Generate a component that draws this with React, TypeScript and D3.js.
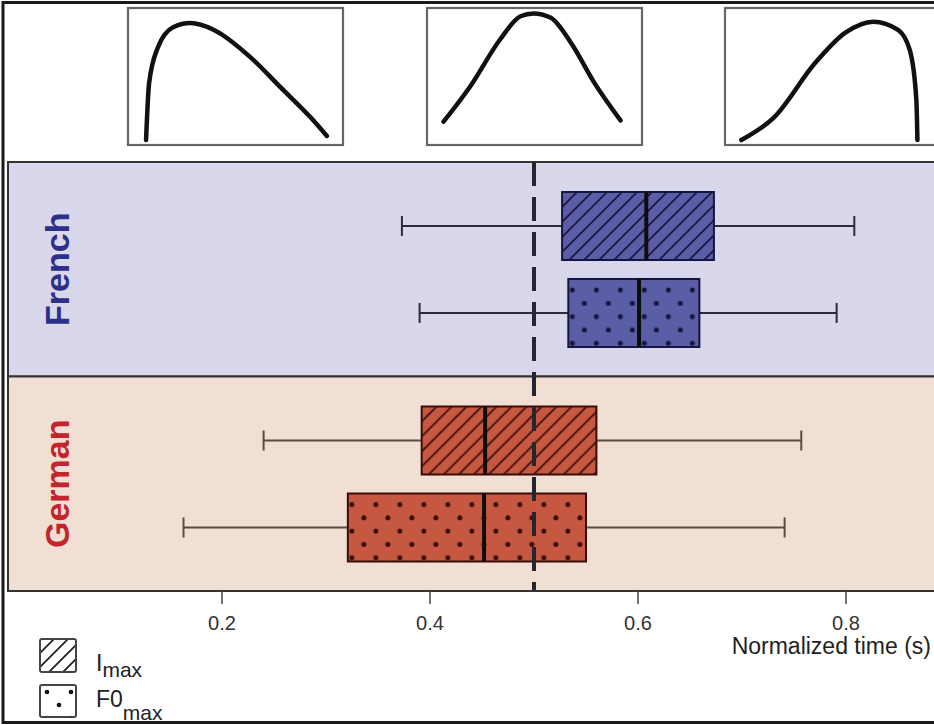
import React from "react";
import * as d3 from "d3";

const width = 934;
const height = 725;

const languages = ["French", "German"];
const measures = ["Imax", "F0max"];
// low whisker, q1, median, q3, high whisker (normalized time, s)
const frenchImax = [0.373, 0.527, 0.608, 0.673, 0.808];
const frenchF0max = [0.39, 0.533, 0.601, 0.659, 0.791];
const germanImax = [0.24, 0.392, 0.453, 0.56, 0.757];
const germanF0max = [0.163, 0.321, 0.452, 0.55, 0.741];
const xTicks = [0.2, 0.4, 0.6, 0.8];
const refTime = 0.5;

// shape sketches above the plot: [relative time, relative height]
const earlyPeak = [
  [0.084, 0.036], [0.098, 0.45], [0.14, 0.715], [0.21, 0.86], [0.29, 0.89],
  [0.4, 0.84], [0.57, 0.64], [0.71, 0.42], [0.85, 0.2], [0.925, 0.066],
];
const midPeak = [
  [0.077, 0.17], [0.2, 0.425], [0.34, 0.77], [0.435, 0.94], [0.495, 0.96],
  [0.574, 0.93], [0.67, 0.745], [0.78, 0.45], [0.9, 0.18],
];
const latePeak = [
  [0.076, 0.036], [0.227, 0.2], [0.42, 0.6], [0.56, 0.82], [0.69, 0.9],
  [0.805, 0.84], [0.86, 0.69], [0.89, 0.33], [0.895, 0.036],
];

const summaries = {
  French: { Imax: frenchImax, F0max: frenchF0max },
  German: { Imax: germanImax, F0max: germanF0max },
};

const styles = {
  French: { bg: "#d9d7ec", fill: "#5b5da7", ink: "#15163e", label: "#2d3089", whisker: "#2c2c3c" },
  German: { bg: "#f1dfd3", fill: "#c65842", ink: "#3a0c08", label: "#c2262c", whisker: "#5b4b42" },
};

const font = "'Liberation Sans', Arial, Helvetica, sans-serif";

const plotLeft = 8;
const plotTop = 162;
const panelH = 214.5;

const x = d3.scaleLinear().domain([0.2, 0.8]).range([222, 846]);
const panelY = d3
  .scaleBand()
  .domain(languages)
  .range([plotTop, plotTop + panelH * 2]);

const miniPanels = [
  { left: 128, data: earlyPeak },
  { left: 427, data: midPeak },
  { left: 725, data: latePeak },
];
const miniW = 215;
const miniTop = 8;
const miniBottom = 145;

export default function App() {
  const axisY = plotTop + panelH * 2;

  const boxes = languages.flatMap((lang) => {
    const top = panelY(lang);
    const rowY = d3
      .scaleBand()
      .domain(measures)
      .range([top + 30, top + 185])
      .paddingInner(0.218);
    return measures.map((m) => {
      const [lo, q1, med, q3, hi] = summaries[lang][m];
      const y0 = rowY(m);
      return { lang, m, lo, q1, med, q3, hi, y0, cy: y0 + rowY.bandwidth() / 2, bw: rowY.bandwidth() };
    });
  });

  return (
    <svg
      width={width}
      height={height}
      style={{ position: "fixed", left: 0, top: 0, background: "#fff" }}
      fontFamily={font}
    >
      <defs>
        {boxes.map((b) => {
          const s = styles[b.lang];
          const id = `${b.lang}-${b.m}`;
          return b.m === "Imax" ? (
            <pattern key={id} id={id} patternUnits="userSpaceOnUse" width={15} height={15} x={x(b.q1)} y={b.y0}>
              <rect width={15} height={15} fill={s.fill} />
              <path d="M-4,4 L4,-4 M0,15 L15,0 M11,19 L19,11" stroke={s.ink} strokeWidth={1.7} />
            </pattern>
          ) : (
            <pattern key={id} id={id} patternUnits="userSpaceOnUse" width={24} height={26.6} x={x(b.q1) + 4} y={b.y0 + 11}>
              <rect width={24} height={26.6} fill={s.fill} />
              {[[0, 0], [24, 0], [0, 26.6], [24, 26.6], [12, 13.3]].map(([cx, cy], i) => (
                <circle key={i} cx={cx} cy={cy} r={2.5} fill={s.ink} />
              ))}
            </pattern>
          );
        })}
        <pattern id="legend-hatch" patternUnits="userSpaceOnUse" width={14} height={14} x={40} y={639}>
          <rect width={14} height={14} fill="#fff" />
          <path d="M-4,4 L4,-4 M0,14 L14,0 M10,18 L18,10" stroke="#222" strokeWidth={1.8} />
        </pattern>
        <pattern id="legend-dots" patternUnits="userSpaceOnUse" width={24} height={26} x={47} y={692}>
          <rect width={24} height={26} fill="#fff" />
          {[[0, 0], [24, 0], [0, 26], [24, 26], [12, 13]].map(([cx, cy], i) => (
            <circle key={i} cx={cx} cy={cy} r={2.3} fill="#111" />
          ))}
        </pattern>
      </defs>

      {/* outer frame */}
      <rect x={3} y={2.5} width={945} height={720} fill="none" stroke="#1a1a1a" strokeWidth={3} />

      {/* shape sketches */}
      {miniPanels.map((p, i) => {
        const sx = d3.scaleLinear().domain([0, 1]).range([p.left, p.left + miniW]);
        const sy = d3.scaleLinear().domain([0, 1]).range([miniBottom, miniTop]);
        const line = d3
          .line()
          .x((d) => sx(d[0]))
          .y((d) => sy(d[1]))
          .curve(d3.curveMonotoneX);
        return (
          <g key={i}>
            <rect x={p.left} y={miniTop} width={miniW} height={miniBottom - miniTop} fill="#fff" stroke="#666" strokeWidth={2.2} />
            <path d={line(p.data)} fill="none" stroke="#111" strokeWidth={4.5} strokeLinecap="round" />
          </g>
        );
      })}

      {/* language panels */}
      {languages.map((lang) => {
        const top = panelY(lang);
        const s = styles[lang];
        return (
          <g key={lang}>
            <rect x={plotLeft} y={top} width={945} height={panelY.bandwidth()} fill={s.bg} stroke="#333" strokeWidth={2} />
            <text
              transform={`translate(69,${top + panelY.bandwidth() / 2}) rotate(-90)`}
              textAnchor="middle"
              fontSize={34}
              fontWeight="bold"
              fill={s.label}
            >
              {lang}
            </text>
          </g>
        );
      })}

      {/* box plots */}
      {boxes.map((b) => {
        const s = styles[b.lang];
        return (
          <g key={`${b.lang}-${b.m}`}>
            <line x1={x(b.lo)} x2={x(b.hi)} y1={b.cy} y2={b.cy} stroke={s.whisker} strokeWidth={2} />
            <line x1={x(b.lo)} x2={x(b.lo)} y1={b.cy - 10} y2={b.cy + 10} stroke={s.whisker} strokeWidth={2} />
            <line x1={x(b.hi)} x2={x(b.hi)} y1={b.cy - 10} y2={b.cy + 10} stroke={s.whisker} strokeWidth={2} />
            <rect
              x={x(b.q1)}
              y={b.y0}
              width={x(b.q3) - x(b.q1)}
              height={b.bw}
              fill={`url(#${b.lang}-${b.m})`}
              stroke={s.ink}
              strokeWidth={2}
            />
            <line x1={x(b.med)} x2={x(b.med)} y1={b.y0} y2={b.y0 + b.bw} stroke="#0d0d0d" strokeWidth={4} />
          </g>
        );
      })}

      {/* reference line */}
      <line
        x1={x(refTime)}
        x2={x(refTime)}
        y1={plotTop}
        y2={axisY}
        stroke="#25252e"
        strokeWidth={4}
        strokeDasharray="24 11"
      />

      {/* x axis */}
      <line x1={plotLeft} x2={width + 10} y1={axisY} y2={axisY} stroke="#333" strokeWidth={2} />
      {xTicks.map((t) => (
        <g key={t} transform={`translate(${x(t)},${axisY})`}>
          <line y1={0} y2={13} stroke="#444" strokeWidth={1.5} />
          <text y={39} textAnchor="middle" fontSize={20} fill="#333">
            {d3.format(".1f")(t)}
          </text>
        </g>
      ))}
      <text x={931} y={654} textAnchor="end" fontSize={23} fill="#222">
        Normalized time (s)
      </text>

      {/* legend */}
      <rect x={40} y={639} width={36} height={33} rx={2} fill="url(#legend-hatch)" stroke="#444" strokeWidth={2} />
      <text x={96} y={671} fontSize={23} fill="#222">
        I
        <tspan fontSize={21} dy={6}>max</tspan>
      </text>
      <rect x={40} y={685} width={36} height={32} rx={2} fill="url(#legend-dots)" stroke="#444" strokeWidth={2} />
      <text x={96} y={707} fontSize={23} fill="#222">
        F0
        <tspan fontSize={21} dy={13}>max</tspan>
      </text>
    </svg>
  );
}
